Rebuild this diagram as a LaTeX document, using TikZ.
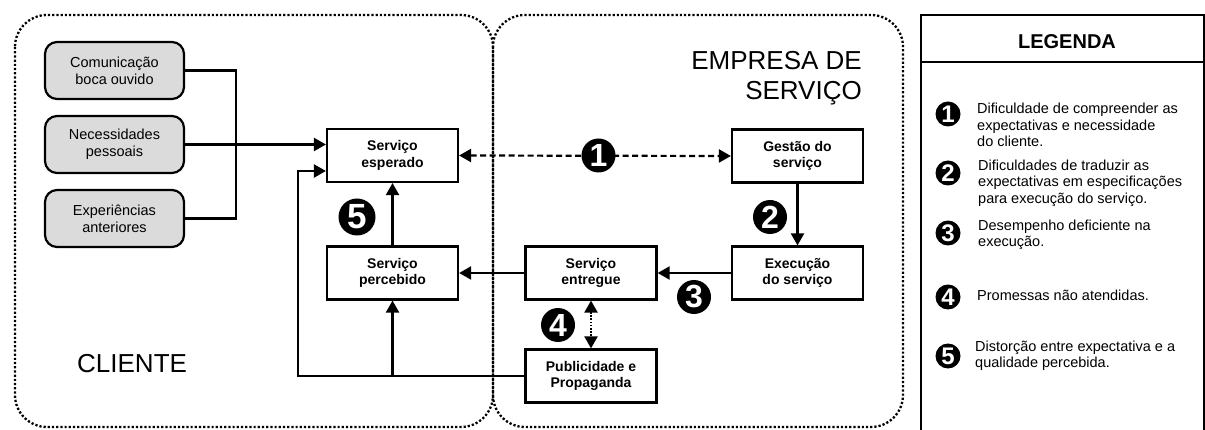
\documentclass[tikz,border=0pt]{standalone}
\usepackage{fontspec}
\setmainfont{Liberation Sans}
\usetikzlibrary{arrows.meta}

\begin{document}
\begin{tikzpicture}[x=1pt,y=-1pt,
  procbox/.style={draw,line width=2.2pt,minimum width=131pt,minimum height=53pt,
    inner sep=0pt,align=center,font=\bfseries\fontsize{14}{16.5}\selectfont},
  sourcebox/.style={draw,line width=2.2pt,fill=gray!28,rounded corners=12pt,
    minimum width=139pt,minimum height=57pt,inner sep=0pt,align=center,
    font=\fontsize{14.5}{17}\selectfont},
  gapmark/.style={circle,fill=black,inner sep=0pt,minimum size=34pt,text=white,
    font=\bfseries\fontsize{32}{32}\selectfont},
  keymark/.style={gapmark,minimum size=25pt,font=\bfseries\fontsize{24}{24}\selectfont},
  keytext/.style={anchor=west,align=left,inner sep=0pt,
    font=\fontsize{14.5}{16.5}\selectfont},
  flow/.style={line width=2.2pt,-{Triangle[length=12pt,width=13pt]}},
  plain/.style={line width=2.2pt},
  gapline/.style={line width=2.2pt,dash pattern=on 6pt off 3.5pt,
    {Triangle[length=12pt,width=13pt]}-{Triangle[length=12pt,width=13pt]}},
  promise/.style={line width=2.2pt,dash pattern=on 1.6pt off 1.6pt,
    {Triangle[length=12pt,width=13pt]}-{Triangle[length=12pt,width=13pt]}},
  zone/.style={line width=2.3pt,dash pattern=on 2.2pt off 2pt,rounded corners=32pt},
  bigtitle/.style={font=\fontsize{26}{30}\selectfont,inner sep=0pt}
]
\useasboundingbox (0,0) rectangle (1205,430);
\clip (0,0) rectangle (1205,430);

% client and company zones
\draw[zone] (15,15) rectangle (493,427);
\draw[zone] (493,15) rectangle (903,427);
\node[bigtitle,anchor=base west] (cliente) at (77,373) {CLIENTE};
\node[bigtitle,anchor=base east,align=right] (empresa) at (862,100)
  {EMPRESA DE\\SERVIÇO};

% inputs to the expected service
\node[sourcebox] (com) at (114.5,70.5) {Comunicação\\boca ouvido};
\node[sourcebox] (nec) at (114.5,144.5) {Necessidades\\pessoais};
\node[sourcebox] (exp) at (114.5,218.5) {Experiências\\anteriores};

% service boxes
\node[procbox] (esp) at (392.5,155.5) {Serviço\\esperado};
\node[procbox] (per) at (392.5,273) {Serviço\\percebido};
\node[procbox] (ent) at (591,273) {Serviço\\entregue};
\node[procbox] (pub) at (591,376) {Publicidade e\\Propaganda};
\node[procbox] (ges) at (797.5,156) {Gestão do\\serviço};
\node[procbox] (exe) at (797.5,273) {Execução\\do serviço};

% connectors
\coordinate (merge) at (236,144.5);
\coordinate (loop) at (298,171);
\draw[plain] (com.east) -| (merge) |- (exp.east);
\draw[flow] (nec.east) -- (esp.west |- nec.east);
\draw[flow] (pub.west) -| (loop) -- (loop -| esp.west);
\draw[flow] (per.south |- pub.west) -- (per.south);
\draw[flow] (per.north) -- (esp.south);
\draw[flow] (ent.west) -- (per.east);
\draw[flow] (exe.west) -- (ent.east);
\draw[flow] (ges.south) -- (exe.north);
\draw[gapline] (esp.east) -- (ges.west);
\draw[promise] (ent.south) -- (pub.north);

% gap markers
\node[gapmark] (g1) at (598.5,155.5) {1};
\node[gapmark] (g2) at (770,217) {2};
\node[gapmark] (g3) at (694,297) {3};
\node[gapmark] (g4) at (558,325) {4};
\node[gapmark,minimum size=37pt,font=\bfseries\fontsize{35}{35}\selectfont] (g5) at (357,217) {5};

% legend
\draw[line width=2.5pt] (921,15) rectangle (1204,445);
\draw[line width=2.5pt] (921,62) -- (1205,62);
\node[font=\bfseries\fontsize{20}{24}\selectfont] (legenda) at (1067,42) {LEGENDA};

\node[keymark] (k1) at (948,114) {1};
\node[keytext] (t1) at (977,125) {Dificuldade de compreender as\\expectativas e necessidade\\do cliente.};
\node[keymark] (k2) at (948,173) {2};
\node[keytext] (t2) at (978,183) {Dificuldades de traduzir as\\expectativas em especificações\\para execução do serviço.};
\node[keymark] (k3) at (948,233) {3};
\node[keytext] (t3) at (978,235) {Desempenho deficiente na\\execução.};
\node[keymark] (k4) at (948,297) {4};
\node[keytext] (t4) at (977,295) {Promessas não atendidas.};
\node[keymark] (k5) at (948,356) {5};
\node[keytext] (t5) at (975,356) {Distorção entre expectativa e a\\qualidade percebida.};
\end{tikzpicture}
\end{document}
